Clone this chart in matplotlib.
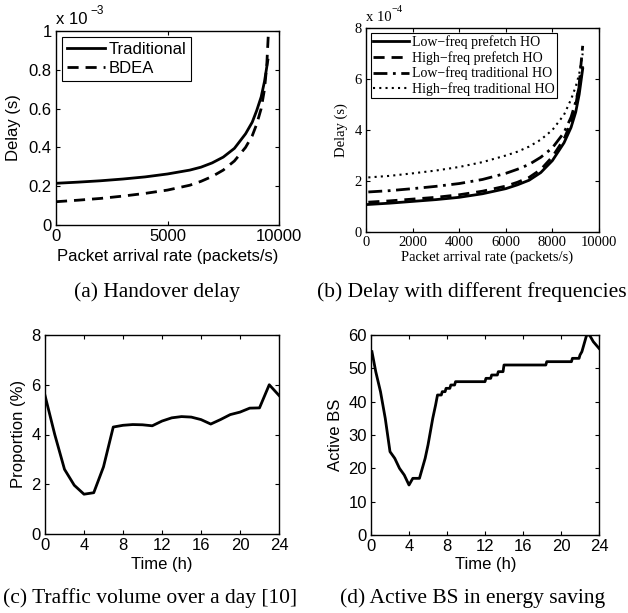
import matplotlib
matplotlib.use("Agg")
import matplotlib.pyplot as plt
import numpy as np

# ---------------- data ----------------
# (a) Handover delay, values in units of 1e-3 s
a_rate_trad = [0, 1000, 2000, 3000, 4000, 5000, 6000, 6500, 7000, 7500, 8000, 8500, 8800, 9000, 9200, 9350, 9500]
a_trad = [0.215, 0.221, 0.228, 0.237, 0.248, 0.263, 0.283, 0.298, 0.32, 0.35, 0.395, 0.47, 0.53, 0.59, 0.66, 0.74, 0.85]
a_rate_bdea = [0, 1000, 2000, 3000, 4000, 5000, 6000, 6500, 7000, 7500, 8000, 8500, 8800, 9000, 9200, 9350, 9450, 9520]
a_bdea = [0.12, 0.128, 0.137, 0.149, 0.163, 0.18, 0.205, 0.225, 0.25, 0.283, 0.33, 0.4, 0.46, 0.52, 0.6, 0.7, 0.82, 0.98]
a_legend = ["Traditional", "BDEA"]

# (b) Delay with different frequencies, values in units of 1e-4 s
b_rate = [100, 1000, 2000, 3000, 4000, 5000, 6000, 6500, 7000, 7500, 8000, 8500, 8800, 9000, 9150, 9300]
b_low_prefetch = [1.08, 1.13, 1.2, 1.27, 1.36, 1.5, 1.7, 1.85, 2.03, 2.33, 2.8, 3.5, 4.1, 4.7, 5.4, 6.4]
b_high_prefetch = [1.17, 1.22, 1.29, 1.36, 1.46, 1.6, 1.8, 1.95, 2.14, 2.45, 2.95, 3.65, 4.3, 4.95, 5.8, 7.3]
b_low_trad = [1.57, 1.62, 1.7, 1.79, 1.9, 2.06, 2.3, 2.46, 2.65, 2.93, 3.3, 3.9, 4.5, 5.1, 5.7, 6.5]
b_high_trad = [2.14, 2.2, 2.3, 2.41, 2.55, 2.74, 3.0, 3.15, 3.35, 3.62, 4.0, 4.6, 5.2, 5.7, 6.2, 7.0]
b_legend = ["Low\u2212freq prefetch HO", "High\u2212freq prefetch HO",
            "Low\u2212freq traditional HO", "High\u2212freq traditional HO"]

# (c) Traffic volume over a day (%)
c_hour = list(range(25))
c_prop = [5.57, 4.0, 2.6, 1.96, 1.6, 1.66, 2.7, 4.3, 4.37, 4.4, 4.39, 4.35, 4.54, 4.67, 4.72, 4.7, 4.6, 4.42, 4.6, 4.8, 4.9, 5.06, 5.07, 6.0, 5.57]

# (d) Active BS in energy saving
d_time = [0.1, 0.3, 0.5, 0.75, 1.0, 1.25, 1.5, 1.75, 2.0, 2.5, 3.0, 3.5, 4.0, 4.2, 4.4, 5.1, 5.4, 5.7, 6.0, 6.25, 6.5, 6.8, 7.0,
          7.4, 7.5, 7.8, 7.9, 8.3, 8.4, 8.8, 8.9, 12.0, 12.1, 12.6, 12.7, 13.3, 13.4, 13.9, 14.0, 18.4, 18.5, 21.1, 21.2, 21.9,
          22.0, 22.2, 22.4, 22.7, 23.0, 23.4, 24.0]
d_bs = [55, 52, 49, 46, 43, 39, 35, 30, 25, 23, 20, 18, 15, 16, 17, 17, 20, 23, 27, 31, 35, 39, 42,
        42, 43, 43, 44, 44, 45, 45, 46, 46, 47, 47, 48, 48, 49, 49, 51, 51, 52, 52, 53, 53,
        54, 55, 57, 60, 60, 58, 56]

captions = ["(a) Handover delay", "(b) Delay with different frequencies",
            "(c) Traffic volume over a day [10]", "(d) Active BS in energy saving"]

# ---------------- layout ----------------
W, H = 628, 613
DPI = 100
fig = plt.figure(figsize=(W / DPI, H / DPI), dpi=DPI)

SANS = "Liberation Sans"
SERIF = "Liberation Serif"


def rect(l, r, t, b):
    return [l / W, 1 - b / H, (r - l) / W, (b - t) / H]


def ftext(x, y, s, **kw):
    fig.text(x / W, 1 - y / H, s, **kw)


def style(ax, family, size):
    ax.tick_params(direction="in", top=True, right=True, length=3, width=0.8,
                   labelsize=size, pad=3, colors="black")
    for lab in ax.get_xticklabels() + ax.get_yticklabels():
        lab.set_family(family)
    for s in ax.spines.values():
        s.set_linewidth(1.0)


# (a)
axa = fig.add_axes(rect(56, 279, 31, 225))
axa.plot(a_rate_trad, a_trad, "k-", lw=2.0, label=a_legend[0])
axa.plot(a_rate_bdea, a_bdea, "k--", lw=2.0, dashes=(4, 2.5), label=a_legend[1])
axa.set_xlim(0, 10000)
axa.set_ylim(0, 1)
axa.set_xticks([0, 5000, 10000])
axa.set_xticklabels(["0", "5000", "10000"])
axa.set_yticks([0, 0.2, 0.4, 0.6, 0.8, 1.0])
axa.set_yticklabels(["0", "0.2", "0.4", "0.6", "0.8", "1"])
style(axa, SANS, 12)
leg = axa.legend(loc="upper left", prop={"family": SANS, "size": 12}, frameon=True, fancybox=False,
                 edgecolor="black", framealpha=1, handlelength=2.3, borderpad=0.3, labelspacing=0.25,
                 handletextpad=0.2, borderaxespad=0.35)
leg.get_frame().set_linewidth(0.8)
axa.text(0.0, 1.02, "x 10", transform=axa.transAxes, family=SANS, size=12, ha="left", va="bottom")
axa.text(0.155, 1.07, "\u22123", transform=axa.transAxes, family=SANS, size=8.5, ha="left", va="bottom")
ftext(14, 128, "Delay (s)", family=SANS, size=12, rotation=90, ha="center", va="center")
ftext(168, 257, "Packet arrival rate (packets/s)", family=SANS, size=12, ha="center", va="center")

# (b)
axb = fig.add_axes(rect(366, 599, 28, 232))
axb.plot(b_rate, b_low_prefetch, "k-", lw=2.0, label=b_legend[0])
axb.plot(b_rate, b_high_prefetch, "k--", lw=2.0, dashes=(4, 2.5), label=b_legend[1])
axb.plot(b_rate, b_low_trad, "k-.", lw=2.0, dashes=(5, 2, 1, 2), label=b_legend[2])
axb.plot(b_rate, b_high_trad, "k:", lw=1.5, dashes=(1, 2), label=b_legend[3])
axb.set_xlim(0, 10000)
axb.set_ylim(0, 8)
axb.set_xticks([0, 2000, 4000, 6000, 8000, 10000])
axb.set_yticks([0, 2, 4, 6, 8])
axb.set_xticklabels(["0", "2000", "4000", "6000", "8000", "10000"])
axb.set_yticklabels(["0", "2", "4", "6", "8"])
style(axb, SERIF, 10.5)
leg = axb.legend(loc="upper left", prop={"family": SERIF, "size": 10}, frameon=True, fancybox=False,
                 edgecolor="black", framealpha=1, handlelength=2.6, borderpad=0.15, labelspacing=0.15,
                 handletextpad=0.2, borderaxespad=0.35)
leg.get_frame().set_linewidth(0.8)
axb.text(0.0, 1.02, "x 10", transform=axb.transAxes, family=SERIF, size=10.5, ha="left", va="bottom")
axb.text(0.11, 1.07, "\u22124", transform=axb.transAxes, family=SERIF, size=7.5, ha="left", va="bottom")
ftext(341, 130, "Delay (s)", family=SERIF, size=10.5, rotation=90, ha="center", va="center")
ftext(487, 257, "Packet arrival rate (packets/s)", family=SERIF, size=10.5, ha="center", va="center")

# (c)
axc = fig.add_axes(rect(45, 279, 335, 534))
axc.plot(c_hour, c_prop, "k-", lw=2.0)
axc.set_xlim(0, 24)
axc.set_ylim(0, 8)
axc.set_xticks([0, 4, 8, 12, 16, 20, 24])
axc.set_yticks([0, 2, 4, 6, 8])
style(axc, SANS, 12)
ftext(19, 434, "Proportion (%)", family=SANS, size=12, rotation=90, ha="center", va="center")
ftext(162, 565, "Time (h)", family=SANS, size=12, ha="center", va="center")

# (d)
axd = fig.add_axes(rect(371, 599, 335, 535))
axd.plot(d_time, d_bs, "k-", lw=2.0)
axd.set_xlim(0, 24)
axd.set_ylim(0, 60)
axd.set_xticks([0, 4, 8, 12, 16, 20, 24])
axd.set_yticks([0, 10, 20, 30, 40, 50, 60])
style(axd, SANS, 12)
ftext(335, 435, "Active BS", family=SANS, size=12, rotation=90, ha="center", va="center")
ftext(486, 565, "Time (h)", family=SANS, size=12, ha="center", va="center")

# captions
ftext(157, 292, captions[0], family=SERIF, size=15.5, ha="center", va="center")
ftext(472, 292, captions[1], family=SERIF, size=15.5, ha="center", va="center")
ftext(150, 598, captions[2], family=SERIF, size=15.5, ha="center", va="center")
ftext(473, 598, captions[3], family=SERIF, size=15.5, ha="center", va="center")

fig.savefig("out.png", dpi=DPI)
